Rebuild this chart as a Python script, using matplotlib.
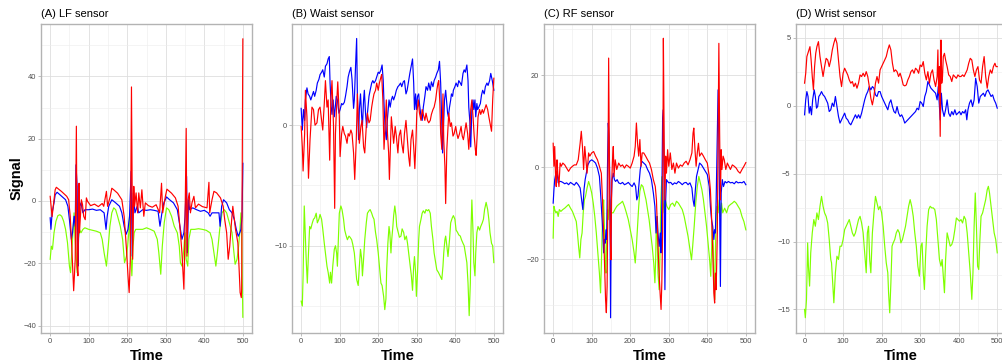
import matplotlib
matplotlib.use("Agg")
import matplotlib.pyplot as plt
from matplotlib.ticker import MultipleLocator

plt.rcParams['font.family'] = ['Liberation Sans', 'DejaVu Sans']

# ---------------- LF sensor ----------------
lf_red_t = [0, 5, 13, 16, 30, 43, 48, 52, 56, 61, 65, 68, 70, 72, 75, 76, 81, 84, 87, 91, 94, 97, 105, 115, 125, 135, 139, 146, 149, 156, 160, 165, 175, 186, 192, 198, 202, 205, 208, 211, 214, 217, 219, 223, 227, 230, 234, 238, 243, 247, 255, 265, 275, 284, 289, 292, 299, 303, 315, 325, 332, 338, 342, 347, 349, 353, 355, 358, 361, 364, 368, 373, 377, 385, 395, 407, 412, 414, 420, 425, 432, 442, 449, 453, 458, 462, 466, 471, 474, 477, 481, 487, 490, 493, 496, 497, 500]
lf_red_v = [1.5, -5.0, 3.6, 4.4, 3.0, 1.5, 0.4, -4.9, -14.5, -28.8, -18.7, 24.0, -20.9, -24.0, 5.7, -10.2, 0.4, -1.2, -4.9, -6.0, 1.0, -0.1, -1.5, -1.0, -1.8, -0.8, -1.7, 3.1, -1.7, 1.5, 4.1, 3.6, 2.5, 0.4, -4.9, -15.5, -24.0, -29.4, -18.7, 36.6, -18.7, 4.7, -1.7, 2.6, -3.8, 2.6, -2.2, 3.6, -4.9, -0.6, -1.5, -2.0, -1.2, -3.8, 5.7, -3.8, 1.5, 3.8, 2.5, 1.0, -1.7, -10.2, -16.6, -28.3, -16.6, 23.3, -17.7, 0.4, 2.6, -3.8, -0.6, 1.5, -2.2, -1.0, -1.8, -2.2, 6.0, -3.8, 0.4, 3.1, 2.6, 1.0, -1.7, -6.0, -10.2, -18.7, -14.5, -6.0, -1.7, -4.9, -9.1, -13.4, -20.9, -29.4, -31.0, -28.3, 52.0]

lf_blue_t = [0, 2, 5, 10, 13, 18, 30, 40, 46, 50, 55, 58, 62, 65, 67, 70, 72, 74, 77, 80, 85, 90, 100, 110, 120, 130, 140, 145, 148, 152, 160, 170, 180, 186, 192, 197, 202, 206, 210, 213, 216, 220, 226, 230, 240, 250, 260, 270, 280, 285, 290, 295, 302, 310, 320, 330, 338, 342, 347, 350, 354, 356, 359, 362, 370, 380, 390, 400, 410, 415, 420, 430, 438, 441, 445, 450, 458, 465, 472, 478, 483, 488, 492, 495, 498, 500]
lf_blue_v = [-5.4, -9.1, -3.8, -0.6, 2.0, 2.8, 1.5, 0.4, -1.7, -6.0, -12.3, -10.2, -4.9, -8.1, 11.6, 4.7, -20.9, -10.2, -1.7, -0.6, -3.8, -2.8, -2.8, -2.6, -3.0, -2.8, -3.8, -9.1, -4.9, -1.7, 0.4, -0.6, -1.7, -3.8, -8.1, -10.7, -9.1, -4.9, 9.5, -17.7, 2.6, -3.8, -1.7, -3.8, -2.8, -3.0, -2.8, -3.0, -3.3, -8.1, -3.8, -0.6, 1.3, 0.4, -0.6, -2.8, -9.1, -12.3, -10.2, -4.9, 7.9, -16.6, 0.4, -2.8, -2.2, -2.8, -3.3, -3.0, -3.8, -4.9, -3.8, -3.8, -3.8, -8.1, -1.7, 0.4, -0.6, -2.8, -3.8, -6.0, -9.1, -11.3, -10.2, -9.1, -4.9, 12.1]

lf_green_t = [0, 3, 6, 10, 15, 20, 25, 30, 35, 40, 45, 50, 53, 56, 59, 62, 64, 66, 70, 73, 76, 80, 85, 90, 100, 110, 120, 130, 135, 140, 146, 150, 155, 160, 165, 170, 175, 182, 188, 193, 198, 201, 204, 206, 209, 212, 215, 218, 222, 230, 240, 250, 260, 270, 278, 282, 287, 291, 296, 302, 308, 315, 322, 330, 335, 338, 342, 346, 350, 353, 357, 360, 365, 375, 385, 395, 405, 415, 420, 425, 430, 434, 440, 446, 452, 458, 465, 472, 476, 480, 485, 489, 492, 495, 497, 500]
lf_green_v = [-18.7, -14.5, -15.5, -10.2, -6.5, -4.7, -4.4, -4.9, -6.5, -9.1, -13.4, -20.9, -23.0, -16.6, -10.2, -3.8, -10.2, -14.5, -23.0, -12.3, -9.1, -10.2, -9.1, -8.6, -9.1, -9.4, -9.7, -10.2, -12.3, -16.6, -20.9, -15.5, -8.1, -3.8, -2.2, -2.8, -4.9, -8.1, -12.3, -19.8, -17.7, -14.5, -10.2, -4.9, -16.6, -24.0, -14.5, -10.2, -9.1, -9.1, -9.1, -8.6, -9.1, -9.7, -12.3, -16.6, -23.5, -14.5, -7.0, -2.2, -2.8, -4.9, -8.1, -10.2, -14.5, -19.8, -20.9, -16.6, -10.2, -18.7, -20.9, -12.3, -9.1, -9.1, -8.9, -9.1, -9.4, -10.2, -12.3, -16.6, -20.9, -16.6, -9.1, -3.8, -2.8, -3.8, -7.0, -10.2, -15.5, -20.3, -18.7, -14.5, -10.2, -3.8, -10.2, -37.3]

# ---------------- Waist sensor ----------------
waist_red_t = [0, 3, 5, 9, 11, 15, 19, 23, 28, 32, 36, 41, 45, 49, 53, 56, 60, 63, 67, 70, 74, 77, 80, 84, 87, 89, 93, 95, 99, 101, 105, 108, 112, 115, 119, 122, 125, 129, 132, 136, 139, 143, 146, 149, 151, 155, 158, 162, 165, 169, 172, 176, 179, 183, 186, 189, 193, 196, 200, 203, 207, 209, 212, 215, 218, 221, 224, 227, 229, 232, 234, 238, 240, 244, 247, 251, 254, 258, 261, 265, 268, 272, 275, 279, 282, 285, 289, 292, 295, 298, 300, 304, 307, 311, 314, 317, 321, 324, 328, 331, 335, 338, 342, 345, 349, 352, 355, 357, 360, 362, 365, 368, 370, 373, 375, 378, 381, 383, 387, 390, 394, 397, 401, 404, 407, 411, 415, 418, 421, 425, 428, 432, 435, 438, 440, 443, 446, 449, 452, 454, 457, 459, 463, 466, 470, 473, 476, 480, 484, 487, 490, 494, 497, 500]
waist_red_v = [-0.1, -1.8, -3.8, -0.7, 2.9, 0.7, -4.4, -1.2, 1.5, 1.3, 0.0, 0.2, 1.3, 1.5, 0.4, -0.4, 1.8, 3.7, 1.5, 2.1, -2.9, 2.1, 3.7, -0.1, -6.9, -0.7, 2.4, 3.6, 0.7, -2.6, -0.7, -0.1, -0.7, -0.9, -1.5, -0.7, -0.9, -0.4, -0.7, -2.3, -4.5, -1.2, 2.6, -0.1, -1.5, -0.1, 0.4, -1.8, -2.3, -0.1, 1.0, 0.2, 0.4, 1.5, 2.1, 2.6, 2.9, 3.5, 2.9, 3.5, 4.0, 4.2, 2.1, -2.0, -0.1, 2.1, -0.7, -2.3, -4.5, -1.2, 0.7, -0.7, -1.5, -0.1, -0.9, -2.3, -0.9, -0.4, -1.5, -2.3, -0.7, 0.4, -0.9, -2.6, -3.4, -1.2, -0.4, -1.8, -3.6, -1.2, 1.0, 2.1, 1.0, 0.4, 1.3, 0.9, 0.4, 1.0, 0.4, 0.2, 0.4, 0.9, 1.3, 1.5, 2.1, 2.9, 3.5, 3.7, 1.8, -0.7, -2.0, 2.6, -1.2, -3.4, -6.5, -2.0, -0.1, 1.0, -0.1, 0.2, -0.9, -0.7, -0.1, -0.7, -1.1, -0.7, -0.1, -0.9, -1.2, -0.4, 0.2, -0.7, -2.0, -0.4, 1.3, 2.1, 0.7, -0.9, -2.0, -2.5, -0.7, 0.7, 1.3, 0.9, 1.3, 1.0, 1.3, 1.7, 1.3, 0.7, 0.2, -0.5, 2.1, 3.9]

waist_blue_t = [0, 3, 6, 9, 11, 15, 18, 22, 25, 29, 32, 35, 39, 42, 46, 49, 53, 56, 60, 63, 67, 70, 73, 75, 78, 80, 83, 86, 88, 91, 94, 98, 101, 105, 108, 112, 115, 119, 122, 125, 129, 132, 136, 138, 141, 144, 146, 149, 151, 154, 157, 159, 162, 164, 167, 170, 172, 176, 179, 183, 186, 189, 193, 196, 200, 203, 207, 210, 213, 215, 218, 221, 223, 226, 228, 231, 234, 237, 240, 244, 247, 251, 254, 258, 261, 265, 268, 272, 275, 279, 282, 285, 289, 292, 294, 297, 299, 302, 305, 307, 311, 314, 317, 321, 324, 328, 331, 335, 338, 342, 345, 349, 352, 356, 359, 362, 364, 367, 369, 372, 375, 377, 380, 382, 385, 388, 390, 393, 395, 399, 402, 406, 409, 413, 416, 420, 423, 426, 430, 433, 435, 438, 440, 443, 446, 448, 451, 453, 456, 458, 461, 465, 468, 471, 475, 478, 482, 485, 489, 492, 496, 500]
waist_blue_v = [1.4, -0.4, 1.3, 0.4, 2.1, 3.1, 2.6, 2.4, 2.1, 2.5, 2.8, 2.4, 2.9, 3.5, 3.8, 4.2, 4.4, 4.6, 4.0, 4.9, 5.1, 5.5, 5.7, 3.5, 1.5, 0.9, 2.1, 0.7, 1.3, 2.4, 2.1, 1.0, 1.3, 1.8, 1.7, 1.9, 2.4, 3.2, 4.0, 4.4, 4.8, 3.8, 1.4, 2.1, 4.8, 7.2, 2.1, -1.2, 1.3, 2.6, 0.7, -0.1, 2.1, 2.9, 1.0, -0.2, 1.0, 2.4, 2.9, 3.5, 3.7, 3.5, 3.7, 4.0, 4.4, 4.3, 4.6, 5.0, 3.7, 1.8, -0.4, -1.2, 0.2, 1.3, 2.1, 1.5, 2.1, 2.4, 2.1, 2.5, 2.9, 3.2, 3.3, 3.5, 3.2, 3.6, 3.7, 2.6, 2.9, 3.7, 4.3, 4.8, 5.5, 3.5, 1.3, 2.6, 1.3, 2.4, 2.6, 1.8, 0.7, 0.4, 1.5, 2.4, 3.2, 2.9, 3.5, 2.9, 3.6, 3.2, 3.7, 4.0, 4.3, 4.6, 5.3, 3.5, 1.3, -2.3, -0.4, 2.1, 2.9, 2.1, 1.0, 0.7, 1.5, 2.1, 2.6, 2.4, 2.9, 3.2, 3.5, 3.2, 3.7, 3.5, 3.3, 4.3, 4.6, 4.4, 5.0, 3.7, 1.5, 0.2, -1.8, 1.3, 2.1, 1.3, 2.1, 0.7, 1.8, 1.3, 1.5, 1.8, 2.5, 2.9, 2.6, 3.2, 3.5, 3.3, 3.7, 4.3, 3.7, 2.9]

waist_green_t = [0, 3, 5, 8, 10, 13, 16, 19, 22, 25, 29, 32, 35, 39, 42, 46, 49, 53, 56, 60, 63, 67, 70, 74, 76, 79, 82, 86, 89, 92, 94, 97, 99, 103, 106, 110, 113, 117, 120, 124, 127, 131, 134, 138, 141, 144, 148, 151, 154, 157, 159, 162, 165, 169, 172, 176, 179, 183, 186, 189, 193, 196, 200, 203, 207, 210, 214, 217, 220, 222, 225, 228, 230, 233, 235, 238, 240, 243, 246, 248, 252, 255, 259, 262, 266, 269, 273, 276, 279, 283, 286, 289, 292, 294, 297, 299, 302, 305, 307, 311, 314, 317, 321, 324, 328, 331, 335, 338, 342, 345, 349, 352, 356, 359, 362, 365, 368, 370, 373, 375, 378, 381, 385, 388, 392, 395, 399, 402, 406, 409, 413, 416, 420, 423, 426, 430, 433, 436, 439, 441, 443, 446, 448, 451, 453, 456, 459, 463, 466, 470, 473, 476, 480, 484, 487, 490, 494, 497, 500]
waist_green_v = [-14.6, -15.0, -12.5, -6.7, -8.4, -11.1, -13.1, -10.6, -8.4, -8.6, -8.1, -7.8, -7.7, -7.3, -8.1, -7.8, -7.4, -7.8, -8.6, -9.8, -10.6, -11.7, -12.2, -13.1, -12.2, -13.1, -11.7, -10.3, -10.0, -10.6, -11.7, -8.9, -7.3, -6.7, -7.0, -7.8, -8.7, -9.2, -9.5, -9.2, -9.3, -9.5, -9.9, -10.6, -11.7, -12.8, -13.3, -11.7, -10.3, -11.1, -12.5, -11.1, -9.5, -8.1, -7.3, -7.1, -7.0, -7.3, -7.6, -7.8, -8.9, -9.5, -10.6, -11.7, -13.1, -13.3, -14.2, -15.3, -14.4, -11.9, -9.8, -8.4, -8.9, -10.6, -9.5, -8.4, -7.5, -6.7, -7.5, -8.4, -8.9, -9.3, -9.2, -8.6, -8.9, -9.5, -9.2, -9.8, -10.6, -11.7, -12.5, -13.7, -11.7, -10.9, -12.2, -14.2, -12.2, -9.5, -8.4, -7.8, -7.3, -7.1, -7.3, -7.0, -7.1, -7.0, -7.3, -8.4, -9.5, -10.6, -11.4, -12.0, -12.2, -12.4, -12.6, -12.8, -11.7, -10.6, -9.5, -9.2, -10.0, -10.9, -9.5, -8.1, -7.7, -7.5, -7.8, -8.7, -8.9, -9.1, -9.2, -9.5, -9.8, -10.0, -10.6, -11.4, -13.1, -15.8, -13.1, -8.4, -6.2, -8.9, -11.4, -12.5, -10.6, -8.9, -8.4, -8.7, -8.4, -8.1, -7.8, -7.0, -6.4, -7.0, -7.8, -8.9, -9.8, -10.0, -11.4]

# ---------------- RF sensor ----------------
rf_red_t = [0, 2, 4, 6, 8, 10, 12, 15, 18, 21, 25, 30, 35, 40, 45, 50, 55, 60, 65, 70, 73, 76, 79, 82, 85, 88, 92, 95, 100, 105, 110, 115, 120, 125, 128, 131, 134, 136, 138, 140, 142, 144, 146, 148, 150, 152, 154, 156, 158, 161, 165, 170, 175, 180, 185, 190, 195, 200, 205, 210, 213, 216, 219, 222, 225, 228, 231, 235, 240, 245, 250, 255, 260, 265, 268, 271, 274, 277, 280, 282, 284, 286, 288, 290, 292, 294, 297, 300, 304, 308, 312, 316, 320, 325, 330, 335, 340, 345, 350, 355, 360, 363, 365, 368, 371, 374, 377, 380, 385, 390, 395, 400, 405, 408, 411, 414, 417, 419, 421, 423, 426, 428, 430, 432, 434, 436, 438, 441, 444, 448, 452, 456, 460, 465, 470, 475, 480, 485, 490, 495, 500]
rf_red_v = [5.2, 0.2, 4.5, -1.3, -4.2, 1.6, -1.3, -4.2, 0.9, 0.2, 0.9, 0.5, -0.2, -0.9, -0.2, 0.2, 0.5, 0.5, 1.6, 5.2, 7.8, 4.5, -0.5, 4.5, 1.6, -1.3, 3.1, 2.4, 3.1, 3.4, 2.4, 1.6, 0.2, -1.3, -7.1, -14.3, -23.0, -28.8, -31.6, -25.9, -7.1, 23.7, 0.2, -14.3, -20.1, -3.4, 1.6, 4.5, -2.0, 1.6, -0.5, 0.9, 0.2, 0.5, -0.2, 0.5, 0.2, -0.2, 0.9, 2.4, 4.5, 9.6, 5.2, 2.4, 6.0, 0.2, 3.1, 3.1, 2.4, 1.6, 0.9, -0.5, -2.7, -4.2, -7.1, -14.3, -21.5, -26.6, -30.9, -25.1, -14.3, 28.0, 6.0, -7.1, 2.4, -1.3, 3.8, 0.2, 3.1, -0.5, 0.9, -1.3, 0.9, -0.2, 0.5, 0.2, 0.9, 1.3, 0.5, 1.6, 3.1, 7.4, 8.5, 3.8, 0.2, 3.1, 5.2, 2.4, 3.1, 2.4, 1.6, 0.9, -2.0, -4.9, -10.7, -17.9, -27.3, -29.5, -23.0, -26.6, -14.3, 7.4, 26.9, 7.4, -7.1, 3.8, -0.5, 2.4, 1.6, -0.5, 0.9, 0.2, -0.5, 0.5, 0.2, -0.2, -0.9, -1.3, -0.5, 0.2, 1.0]

rf_blue_t = [0, 2, 4, 7, 10, 13, 16, 20, 25, 30, 35, 40, 45, 50, 55, 60, 65, 70, 74, 77, 80, 83, 86, 90, 95, 100, 105, 110, 115, 120, 123, 126, 129, 131, 133, 135, 137, 139, 141, 143, 145, 147, 149, 151, 153, 156, 159, 162, 166, 170, 175, 180, 185, 190, 195, 200, 205, 210, 214, 217, 220, 223, 226, 230, 235, 240, 245, 250, 255, 260, 264, 267, 270, 272, 275, 278, 280, 282, 284, 286, 288, 290, 292, 294, 297, 300, 305, 310, 315, 320, 325, 330, 335, 340, 345, 350, 355, 360, 363, 366, 369, 372, 376, 380, 385, 390, 395, 400, 405, 408, 411, 414, 417, 419, 421, 423, 426, 428, 430, 432, 434, 436, 439, 442, 446, 450, 455, 460, 465, 470, 475, 480, 485, 490, 495, 500]
rf_blue_v = [-7.8, -4.9, -2.7, -1.3, -0.9, -3.4, -3.1, -3.1, -3.3, -3.6, -3.4, -3.8, -3.3, -3.6, -3.9, -3.3, -3.8, -4.5, -7.1, -9.2, -4.9, -2.7, -1.3, 0.5, 1.3, 1.6, 1.3, 0.9, -0.2, -2.0, -5.6, -9.9, -14.3, -18.6, -15.7, -16.5, -13.6, -15.7, 0.2, 9.6, 6.7, -3.4, -32.7, -7.1, -2.7, -1.3, -2.7, -3.1, -2.7, -3.4, -3.6, -3.3, -3.8, -3.6, -3.3, -3.8, -4.2, -3.4, -4.2, -7.1, -6.3, -3.4, -0.5, 1.3, 0.9, 0.5, -0.5, -1.3, -2.7, -5.6, -8.5, -14.3, -10.7, -14.3, -17.2, -14.3, -18.6, -7.1, 10.3, 12.5, -3.4, -26.6, -7.1, -2.7, -3.1, -3.4, -3.3, -3.8, -3.4, -3.6, -3.1, -3.4, -3.8, -3.4, -3.3, -3.8, -3.4, -4.5, -7.1, -8.5, -4.9, -2.0, -0.5, 0.9, 0.5, -0.2, -0.9, -1.6, -4.2, -8.5, -11.4, -12.8, -15.7, -13.6, -14.3, -7.1, 7.4, 16.8, 6.0, -8.5, -25.9, -5.6, -2.7, -4.2, -3.1, -3.4, -3.1, -3.4, -3.3, -3.6, -3.1, -3.4, -3.3, -3.4, -3.1, -3.8]

rf_green_t = [0, 2, 4, 7, 10, 13, 16, 20, 25, 30, 35, 40, 45, 50, 55, 60, 63, 66, 69, 72, 75, 78, 81, 84, 88, 92, 96, 100, 104, 108, 112, 116, 120, 123, 125, 127, 129, 131, 133, 135, 137, 139, 141, 143, 146, 149, 152, 156, 160, 165, 170, 175, 180, 185, 190, 195, 200, 205, 210, 213, 216, 219, 222, 225, 229, 233, 237, 241, 245, 249, 253, 257, 261, 264, 266, 268, 270, 272, 275, 277, 279, 281, 283, 285, 288, 291, 295, 300, 305, 310, 315, 320, 325, 330, 335, 340, 345, 350, 355, 359, 362, 366, 370, 374, 378, 382, 386, 390, 394, 398, 402, 406, 409, 411, 413, 415, 417, 419, 421, 423, 425, 428, 431, 434, 437, 440, 445, 450, 455, 460, 465, 470, 475, 480, 485, 490, 495, 500]
rf_green_v = [-15.4, -8.5, -9.2, -9.9, -9.6, -10.7, -9.2, -9.6, -9.2, -8.9, -8.5, -8.1, -8.9, -9.6, -10.7, -11.8, -14.3, -17.2, -19.7, -15.7, -14.3, -9.9, -7.1, -6.3, -4.5, -3.1, -4.2, -5.6, -7.8, -10.7, -14.3, -18.6, -23.0, -27.3, -21.5, -14.3, -9.9, -7.1, -12.8, -21.5, -23.0, -14.3, -9.2, -11.4, -7.1, -10.7, -9.9, -9.9, -9.2, -8.5, -8.1, -7.8, -7.4, -8.5, -9.9, -11.4, -13.6, -15.7, -18.6, -20.8, -17.2, -12.8, -8.5, -5.2, -3.8, -4.2, -5.6, -7.1, -9.2, -11.4, -14.3, -17.2, -20.8, -25.1, -20.1, -10.7, -14.3, -23.0, -26.6, -20.1, -8.5, -4.2, -2.0, -7.1, -9.9, -7.1, -8.5, -9.2, -8.1, -7.8, -8.5, -7.4, -7.8, -8.5, -9.2, -10.7, -12.8, -15.0, -17.9, -20.1, -17.2, -12.8, -7.8, -4.2, -2.0, -3.4, -4.9, -7.1, -9.9, -12.8, -16.5, -20.1, -23.7, -18.6, -12.8, -15.7, -24.4, -28.8, -18.6, -10.7, -8.5, -9.9, -7.1, -10.7, -7.8, -9.9, -8.9, -9.9, -8.5, -8.1, -7.8, -7.4, -7.8, -8.5, -9.2, -10.7, -11.8, -13.6]

# ---------------- Wrist sensor ----------------
wrist_red_t = [0, 3, 6, 10, 14, 17, 20, 23, 26, 29, 32, 36, 40, 44, 48, 52, 56, 60, 64, 68, 72, 76, 80, 84, 88, 92, 96, 100, 104, 108, 112, 116, 120, 124, 128, 132, 136, 140, 144, 148, 152, 156, 160, 164, 168, 172, 176, 180, 184, 188, 192, 196, 200, 204, 208, 212, 216, 220, 224, 228, 232, 236, 240, 244, 248, 252, 256, 260, 264, 268, 272, 276, 280, 284, 288, 292, 296, 300, 304, 308, 312, 316, 320, 324, 328, 332, 336, 340, 344, 346, 348, 350, 352, 354, 356, 358, 360, 363, 366, 370, 374, 378, 382, 386, 390, 394, 398, 402, 406, 410, 414, 418, 422, 426, 430, 434, 438, 442, 446, 450, 454, 458, 462, 466, 470, 474, 478, 482, 486, 490, 494, 497, 500]
wrist_red_v = [1.67, 2.4, 3.63, 4.0, 4.36, 3.38, 2.16, 1.18, 2.89, 3.87, 4.36, 4.73, 3.63, 2.89, 2.16, 2.89, 3.5, 3.38, 2.89, 3.38, 4.12, 4.61, 5.0, 4.61, 3.38, 2.16, 1.42, 2.4, 2.77, 2.52, 2.28, 1.91, 1.67, 1.79, 1.42, 1.67, 1.3, 1.67, 2.28, 2.16, 2.4, 2.16, 2.52, 2.16, 1.42, 0.56, 0.07, 0.69, 1.67, 2.16, 1.67, 2.65, 2.89, 3.14, 3.38, 3.63, 4.12, 4.49, 4.12, 3.14, 2.52, 2.65, 2.52, 2.16, 2.4, 2.03, 1.54, 1.47, 1.54, 1.91, 2.16, 2.52, 2.65, 2.4, 2.77, 2.65, 2.4, 3.01, 2.89, 3.26, 2.4, 1.91, 2.52, 1.67, 2.4, 2.65, 1.91, 1.42, 2.16, 4.12, 0.93, 2.89, -2.25, 4.85, 1.67, 2.16, 3.63, 3.87, 3.38, 2.89, 2.28, 2.16, 1.79, 2.28, 2.16, 2.03, 2.28, 2.16, 2.16, 2.28, 2.16, 2.4, 2.65, 3.14, 3.5, 3.38, 2.65, 2.16, 2.65, 2.89, 1.91, 1.67, 2.89, 3.63, 2.16, 1.3, 2.16, 2.65, 2.4, 2.89, 3.14, 2.89, 2.89]

wrist_blue_t = [0, 3, 6, 9, 12, 15, 18, 21, 25, 28, 31, 34, 37, 40, 44, 48, 52, 56, 60, 64, 68, 72, 76, 80, 84, 88, 92, 96, 100, 104, 108, 112, 116, 120, 124, 128, 132, 136, 140, 144, 148, 152, 156, 160, 164, 168, 172, 176, 180, 184, 188, 192, 196, 200, 204, 208, 212, 216, 220, 224, 228, 232, 236, 240, 244, 248, 252, 256, 260, 264, 268, 272, 276, 280, 284, 288, 292, 296, 300, 304, 308, 312, 316, 320, 324, 328, 332, 336, 340, 344, 347, 350, 352, 355, 358, 362, 366, 370, 374, 378, 382, 386, 390, 394, 398, 402, 406, 410, 414, 418, 421, 424, 428, 432, 436, 440, 444, 448, 452, 456, 460, 464, 468, 472, 476, 480, 484, 488, 492, 496, 500]
wrist_blue_v = [-0.66, 0.44, 1.05, 0.69, -0.54, -0.05, -0.66, 0.44, 1.18, 0.69, -0.17, -0.05, 0.69, 0.81, 1.05, 0.81, 0.69, 0.44, 0.2, -0.42, -0.29, 0.2, -0.05, 0.69, -0.05, -0.78, -1.27, -1.03, -0.78, -0.54, -0.91, -1.03, -1.27, -1.4, -1.15, -0.91, -0.66, -0.91, -0.66, -0.91, -0.54, -0.05, 0.44, 0.81, 1.05, 1.42, 1.18, 1.42, 1.3, 0.81, 0.69, 1.05, 1.05, 0.69, 0.44, 0.2, -0.05, -0.29, 0.2, 0.44, -0.05, -0.42, -0.54, -0.05, -0.54, -0.78, -0.66, -0.91, -1.27, -1.15, -1.03, -0.91, -0.78, -0.66, -0.54, -0.42, -0.17, -0.29, 0.32, 0.2, -0.05, 0.69, 1.05, 1.79, 1.54, 1.3, 1.18, 1.05, 0.93, 0.44, 1.42, -0.05, -1.03, 0.93, -0.29, -0.78, -0.29, 0.44, -0.54, -0.78, -0.42, -0.66, -0.29, -0.66, -0.54, -0.42, -0.66, -0.42, -0.54, -0.29, -1.03, -0.29, 0.2, 0.44, -0.05, 0.44, 2.03, 1.42, 0.2, 0.69, 0.81, 0.93, 0.69, 1.05, 1.18, 0.93, 0.69, 0.81, 0.44, 0.2, -0.17]

wrist_green_t = [0, 2, 5, 8, 10, 13, 16, 20, 24, 28, 32, 36, 40, 44, 48, 52, 56, 60, 64, 68, 70, 73, 76, 80, 84, 88, 92, 96, 100, 104, 108, 112, 116, 120, 124, 128, 132, 136, 140, 144, 148, 152, 156, 160, 163, 166, 169, 172, 176, 180, 184, 188, 192, 196, 200, 204, 208, 212, 216, 218, 221, 224, 227, 230, 234, 238, 242, 246, 250, 254, 258, 262, 266, 270, 274, 278, 282, 286, 290, 294, 298, 302, 305, 308, 311, 314, 318, 322, 326, 330, 334, 338, 342, 346, 350, 354, 357, 360, 363, 366, 370, 374, 378, 382, 386, 390, 394, 398, 402, 406, 410, 414, 418, 422, 426, 430, 434, 437, 440, 443, 446, 449, 452, 455, 458, 462, 466, 470, 474, 477, 480, 484, 488, 492, 496, 500]
wrist_green_v = [-15.0, -15.61, -14.26, -10.1, -11.81, -13.28, -10.83, -9.36, -8.38, -8.87, -7.89, -8.38, -7.4, -6.67, -7.4, -7.89, -8.14, -8.63, -9.85, -11.32, -11.57, -13.04, -14.51, -12.3, -11.08, -11.32, -10.34, -10.34, -9.85, -9.12, -8.87, -8.63, -8.38, -8.87, -9.36, -9.61, -9.36, -8.87, -8.38, -8.14, -8.63, -9.36, -10.83, -12.3, -9.36, -8.87, -11.32, -12.3, -9.36, -7.89, -6.67, -7.16, -7.65, -7.4, -7.89, -8.87, -10.34, -11.57, -12.3, -13.77, -15.25, -13.04, -10.34, -10.1, -9.85, -9.36, -9.12, -9.36, -10.1, -9.85, -9.36, -8.87, -8.14, -7.4, -6.91, -7.4, -8.14, -9.36, -10.34, -11.81, -12.55, -10.34, -10.1, -12.3, -13.53, -11.08, -8.87, -7.65, -7.4, -7.52, -7.52, -7.65, -8.38, -9.85, -11.32, -11.81, -11.32, -12.55, -13.77, -11.32, -9.36, -9.85, -10.34, -10.22, -9.85, -9.12, -8.26, -8.38, -8.5, -8.38, -8.63, -8.14, -8.38, -9.36, -10.83, -12.3, -14.26, -12.3, -8.87, -6.42, -8.87, -11.81, -12.06, -9.85, -8.14, -7.89, -7.4, -6.91, -6.18, -5.93, -6.42, -7.4, -8.38, -9.36, -9.85, -10.83]

# ---------------- drawing ----------------
RED, BLUE, GREEN = "#FF0000", "#0000FF", "#7FFF00"
W, H = 1002, 364

panels = [
    dict(title="(A) LF sensor", left=41.3, right=251.7, ylim=(-42.2, 56.8), major=20, minor=10,
         lines=[(lf_green_t, lf_green_v, GREEN), (lf_blue_t, lf_blue_v, BLUE), (lf_red_t, lf_red_v, RED)]),
    dict(title="(B) Waist sensor", left=292.3, right=502.7, ylim=(-17.2, 8.4), major=10, minor=5,
         lines=[(waist_green_t, waist_green_v, GREEN), (waist_blue_t, waist_blue_v, BLUE), (waist_red_t, waist_red_v, RED)]),
    dict(title="(C) RF sensor", left=544.3, right=754.7, ylim=(-35.9, 31.1), major=20, minor=10,
         lines=[(rf_green_t, rf_green_v, GREEN), (rf_blue_t, rf_blue_v, BLUE), (rf_red_t, rf_red_v, RED)]),
    dict(title="(D) Wrist sensor", left=795.7, right=1006.1, ylim=(-16.7, 6.03), major=5, minor=2.5,
         lines=[(wrist_green_t, wrist_green_v, GREEN), (wrist_blue_t, wrist_blue_v, BLUE), (wrist_red_t, wrist_red_v, RED)]),
]

fig = plt.figure(figsize=(W / 100, H / 100), dpi=100)
fig.patch.set_facecolor("white")

top_px, bottom_px = 24.0, 332.5
for i, p in enumerate(panels):
    width_px = p["right"] - p["left"]
    ax = fig.add_axes([p["left"] / W, 1 - bottom_px / H, width_px / W, (bottom_px - top_px) / H])
    for t, v, c in p["lines"]:
        ax.plot(t, v, color=c, lw=0.85, solid_joinstyle="round")
    ax.set_xlim(-23, 523)
    ax.set_ylim(*p["ylim"])
    ax.xaxis.set_major_locator(MultipleLocator(100))
    ax.xaxis.set_minor_locator(MultipleLocator(50))
    ax.yaxis.set_major_locator(MultipleLocator(p["major"]))
    ax.yaxis.set_minor_locator(MultipleLocator(p["minor"]))
    ax.grid(which="major", color="#DEDEDE", lw=0.6)
    ax.grid(which="minor", color="#EDEDED", lw=0.4)
    ax.set_axisbelow(True)
    for s in ax.spines.values():
        s.set_color("#B3B3B3")
        s.set_linewidth(1.0)
    ax.tick_params(which="major", length=2.2, width=0.6, color="#B3B3B3",
                   labelsize=5.4, labelcolor="#4D4D4D", pad=1.5)
    ax.tick_params(which="minor", length=0)
    ax.set_title(p["title"], loc="left", fontsize=8, pad=5, color="black")
    ax.set_xlabel("Time", fontsize=10.5, fontweight="bold", labelpad=3)
    if i == 0:
        ax.set_ylabel("Signal", fontsize=10.5, fontweight="bold")
        # right edge of the rotated label sits a little left of the tick labels
        ax.yaxis.set_label_coords((24 - p["left"]) / width_px, 0.5)

fig.savefig("out.png", dpi=100)
